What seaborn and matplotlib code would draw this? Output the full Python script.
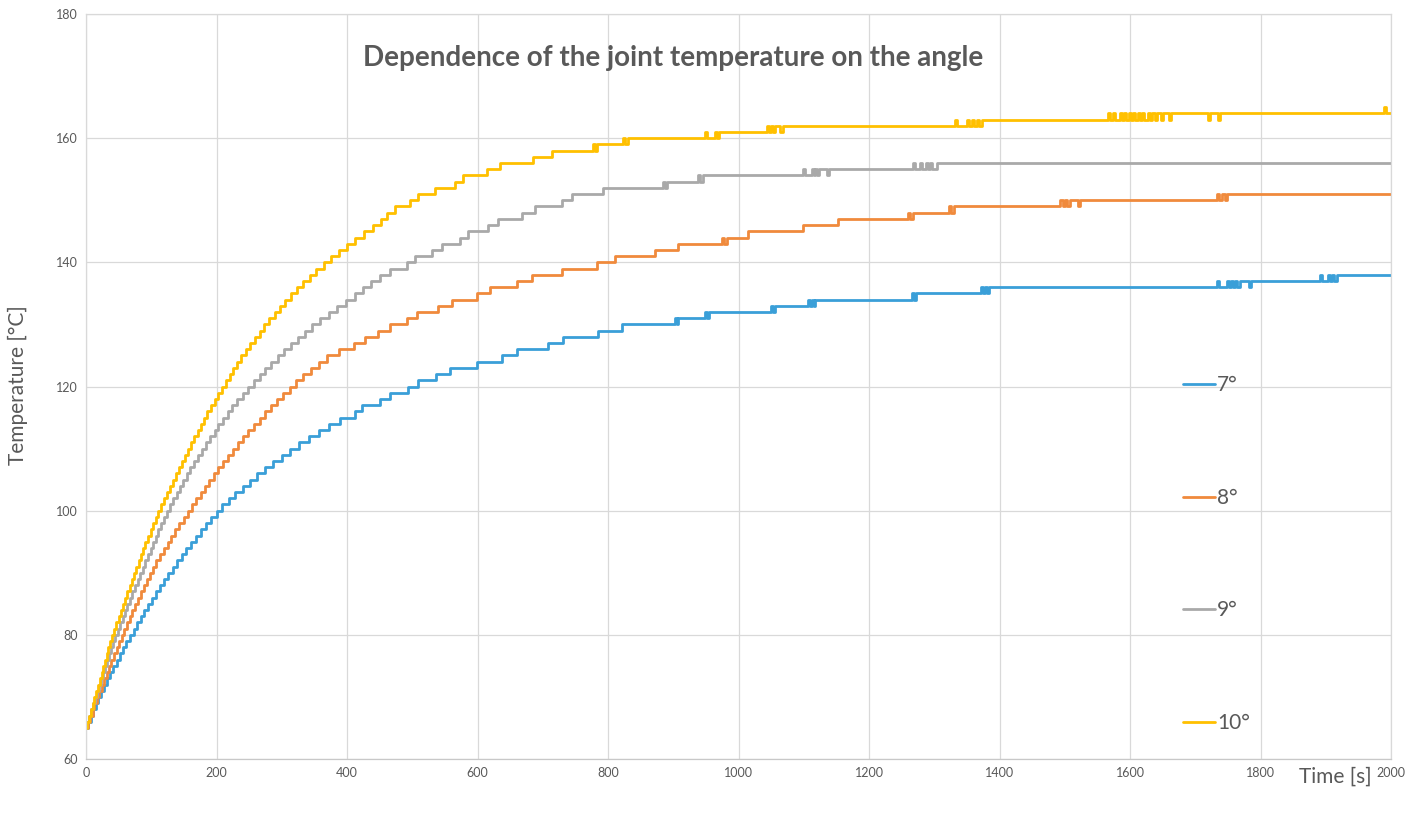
import matplotlib
matplotlib.use("Agg")
import matplotlib.pyplot as plt
import numpy as np
import pandas as pd
import seaborn as sns


# step data: time [s] where the reading changes, new temperature [°C]
blue_time = [0, 3, 7, 11, 15, 19, 23, 28, 32, 37, 42, 47, 52, 57, 62, 68, 73, 78, 84, 89,
             95, 101, 107, 113, 120, 126, 133, 140, 147, 154, 161, 169, 176, 184, 192, 200,
             209, 219, 229, 240, 251, 262, 274, 287, 300, 313, 327, 342, 357, 373, 389, 412,
             423, 450, 466, 493, 509, 537, 558, 599, 638, 660, 708, 731, 785, 821,
             903, 905, 907, 948, 951, 955, 1050, 1053, 1056, 1106, 1109, 1112, 1115, 1118,
             1266, 1269, 1272, 1372, 1375, 1378, 1381, 1384,
             1733, 1736, 1748, 1751, 1755, 1758, 1761, 1764, 1768, 1782, 1786,
             1891, 1894, 1903, 1906, 1910, 1913, 1917, 2000]
blue_temp = [65, 66, 67, 68, 69, 70, 71, 72, 73, 74, 75, 76, 77, 78, 79, 80, 81, 82, 83, 84,
             85, 86, 87, 88, 89, 90, 91, 92, 93, 94, 95, 96, 97, 98, 99, 100,
             101, 102, 103, 104, 105, 106, 107, 108, 109, 110, 111, 112, 113, 114, 115, 116,
             117, 118, 119, 120, 121, 122, 123, 124, 125, 126, 127, 128, 129, 130,
             131, 130, 131, 132, 131, 132, 133, 132, 133, 134, 133, 134, 133, 134,
             135, 134, 135, 136, 135, 136, 135, 136,
             137, 136, 137, 136, 137, 136, 137, 136, 137, 136, 137,
             138, 137, 138, 137, 138, 137, 138, 138]

orange_time = [0, 3, 6, 10, 13, 17, 20, 24, 28, 32, 35, 39, 43, 47, 51, 55, 59, 63, 67, 71,
               75, 80, 85, 89, 94, 98, 103, 108, 114, 119, 125, 131, 137, 143, 150, 157,
               163, 169, 176, 182, 189, 196, 203, 210, 218, 225, 233, 241, 249, 257, 266, 275,
               284, 293, 302, 312, 322, 333, 345, 357, 370, 388, 410, 428, 448, 466, 492, 507,
               540, 561, 599, 619, 660, 683, 729, 783, 811, 872, 907, 975, 978, 982, 1015,
               1099, 1153, 1260, 1263, 1268, 1323, 1326, 1330,
               1493, 1497, 1500, 1504, 1508, 1520, 1523,
               1733, 1737, 1741, 1745, 1749, 2000]
orange_temp = [65, 66, 67, 68, 69, 70, 71, 72, 73, 74, 75, 76, 77, 78, 79, 80, 81, 82, 83, 84,
               85, 86, 87, 88, 89, 90, 91, 92, 93, 94, 95, 96, 97, 98, 99, 100,
               101, 102, 103, 104, 105, 106, 107, 108, 109, 110, 111, 112, 113, 114, 115, 116,
               117, 118, 119, 120, 121, 122, 123, 124, 125, 126, 127, 128, 129, 130, 131, 132,
               133, 134, 135, 136, 137, 138, 139, 140, 141, 142, 143, 144, 143, 144, 145,
               146, 147, 148, 147, 148, 149, 148, 149,
               150, 149, 150, 149, 150, 149, 150,
               151, 150, 151, 150, 151, 151]

grey_time = [0, 2, 5, 8, 11, 14, 17, 20, 23, 26, 29, 32, 35, 38, 41, 45, 49, 52, 56, 60,
             63, 67, 71, 75, 79, 83, 87, 91, 95, 99, 103, 107, 111, 115, 119, 124,
             129, 134, 139, 144, 149, 155, 160, 166, 172, 178, 184, 190, 197, 203, 210, 217,
             224, 232, 240, 248, 257, 266, 275, 284, 294, 304, 314, 325, 336, 347, 359, 372,
             385, 398, 412, 424, 437, 450, 466, 492, 504, 530, 545, 573, 586, 616, 631, 668,
             688, 729, 745, 793, 885, 888, 891, 938, 941, 945,
             1099, 1102, 1112, 1115, 1118, 1121, 1124, 1135, 1139,
             1268, 1271, 1278, 1281, 1288, 1291, 1294, 1297, 1304, 2000]
grey_temp = [65, 66, 67, 68, 69, 70, 71, 72, 73, 74, 75, 76, 77, 78, 79, 80, 81, 82, 83, 84,
             85, 86, 87, 88, 89, 90, 91, 92, 93, 94, 95, 96, 97, 98, 99, 100,
             101, 102, 103, 104, 105, 106, 107, 108, 109, 110, 111, 112, 113, 114, 115, 116,
             117, 118, 119, 120, 121, 122, 123, 124, 125, 126, 127, 128, 129, 130, 131, 132,
             133, 134, 135, 136, 137, 138, 139, 140, 141, 142, 143, 144, 145, 146, 147, 148,
             149, 150, 151, 152, 153, 152, 153, 154, 153, 154,
             155, 154, 155, 154, 155, 154, 155, 154, 155,
             156, 155, 156, 155, 156, 155, 156, 155, 156, 156]

yellow_time = [0, 2, 5, 8, 10, 13, 16, 18, 21, 24, 26, 29, 32, 34, 37, 40, 43, 46, 50, 53,
               56, 60, 63, 67, 70, 74, 77, 81, 84, 88, 91, 95, 99, 103, 107, 111,
               115, 120, 124, 129, 133, 138, 142, 147, 152, 156, 161, 166, 171, 176, 181, 186,
               191, 197, 202, 208, 214, 220, 226, 232, 238, 245, 252, 259, 266, 273, 281, 289,
               297, 305, 314, 323, 333, 343, 353, 364, 376, 388, 400, 413, 426, 440, 452, 461,
               473, 497, 509, 535, 566, 578, 614, 634, 685, 714, 777, 780, 783, 823, 826, 831,
               948, 951, 964, 967, 970, 1043, 1046, 1050, 1053, 1056, 1064, 1068,
               1332, 1335, 1350, 1353, 1358, 1361, 1366, 1369, 1373,
               1566, 1569, 1574, 1577, 1584, 1587, 1591, 1594, 1598, 1601, 1605, 1608, 1612,
               1615, 1619, 1622, 1627, 1630, 1634, 1638, 1641, 1648, 1651, 1660, 1663,
               1720, 1723, 1735, 1738, 1989, 1992, 2000]
yellow_temp = [65, 66, 67, 68, 69, 70, 71, 72, 73, 74, 75, 76, 77, 78, 79, 80, 81, 82, 83, 84,
               85, 86, 87, 88, 89, 90, 91, 92, 93, 94, 95, 96, 97, 98, 99, 100,
               101, 102, 103, 104, 105, 106, 107, 108, 109, 110, 111, 112, 113, 114, 115, 116,
               117, 118, 119, 120, 121, 122, 123, 124, 125, 126, 127, 128, 129, 130, 131, 132,
               133, 134, 135, 136, 137, 138, 139, 140, 141, 142, 143, 144, 145, 146, 147, 148,
               149, 150, 151, 152, 153, 154, 155, 156, 157, 158, 159, 158, 159, 160, 159, 160,
               161, 160, 161, 160, 161, 162, 161, 162, 161, 162, 161, 162,
               163, 162, 163, 162, 163, 162, 163, 162, 163,
               164, 163, 164, 163, 164, 163, 164, 163, 164, 163, 164, 163, 164,
               163, 164, 163, 164, 163, 164, 163, 164, 163, 164, 163, 164,
               163, 164, 163, 164, 165, 164, 164]

angles = ["7°", "8°", "9°", "10°"]
colors = ["#3a9fd8", "#f08a3c", "#a9a9a9", "#ffc000"]

TEXT = "#595959"
GRID = "#d9d9d9"

series = [(blue_time, blue_temp), (orange_time, orange_temp),
          (grey_time, grey_temp), (yellow_time, yellow_temp)]
frames = []
for angle, (t, T) in zip(angles, series):
    frames.append(pd.DataFrame({"time": t, "temp": T, "angle": angle}))
df = pd.concat(frames, ignore_index=True)

sns.set_theme(style="whitegrid")
plt.rcParams["font.family"] = ["Lato", "DejaVu Sans"]

fig = plt.figure(figsize=(14.21, 8.14), dpi=100)
ax = fig.add_axes([86 / 1421, 1 - 759 / 814, 1305 / 1421, 745 / 814])

sns.lineplot(data=df, x="time", y="temp", hue="angle", hue_order=angles,
             palette=colors, estimator=None, drawstyle="steps-post",
             linewidth=2.0, ax=ax)

ax.set_xlim(0, 2000)
ax.set_ylim(60, 180)
ax.set_xticks(np.arange(0, 2001, 200))
ax.set_yticks(np.arange(60, 181, 20))
ax.tick_params(axis="both", length=0, labelsize=9, labelcolor=TEXT, pad=6)
ax.grid(True, color=GRID, linewidth=0.9)
for side, spine in ax.spines.items():
    spine.set_color(GRID)
    spine.set_linewidth(0.9)
ax.spines["bottom"].set_color("#c8c8c8")
ax.set_xlabel("")
ax.set_ylabel("")

fig.text(18 / 1421, 1 - 385 / 814, "Temperature [°C]", rotation=90,
         ha="center", va="center", fontsize=15, color=TEXT)
fig.text(1335 / 1421, 1 - 777 / 814, "Time [s]", ha="center", va="center",
         fontsize=15, color=TEXT)
ax.text(0.45, 0.941, "Dependence of the joint temperature on the angle",
        transform=ax.transAxes, ha="center", va="center", fontsize=20,
        fontweight="bold", color=TEXT)

handles, labels = ax.get_legend_handles_labels()
leg = ax.legend(handles, labels, loc="upper left", bbox_to_anchor=(0.8406, 0.515),
                frameon=False, fontsize=15, labelcolor=TEXT, handlelength=1.55,
                handletextpad=0.1, labelspacing=4.44, borderpad=0, borderaxespad=0)

fig.savefig("out.png", dpi=100)
